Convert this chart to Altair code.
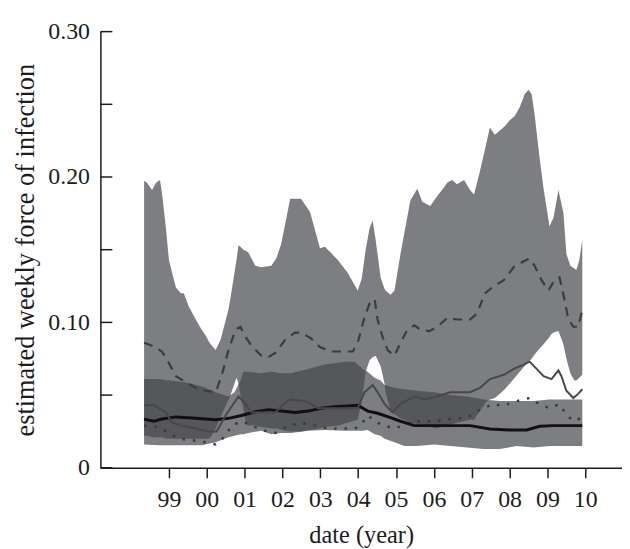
import altair as alt
import pandas as pd

# ---- data ----
band1_year = [1998.344, 1998.422, 1998.554, 1998.659, 1998.764, 1998.816, 1998.921, 1999.000,
              1999.184, 1999.315, 1999.394, 1999.525, 1999.709, 1999.866, 1999.971, 2000.050,
              2000.103, 2000.234, 2000.365, 2000.575, 2000.628, 2000.785, 2000.838, 2000.890,
              2000.969, 2001.048, 2001.100, 2001.284, 2001.442, 2001.704, 2001.835, 2001.967,
              2002.203, 2002.492, 2002.728, 2002.991, 2003.122, 2003.463, 2003.726, 2003.988,
              2004.093, 2004.198, 2004.303, 2004.382, 2004.461, 2004.592, 2004.697, 2004.723,
              2004.855, 2004.960, 2005.117, 2005.380, 2005.563, 2005.695, 2005.905, 2006.089,
              2006.272, 2006.351, 2006.482, 2006.613, 2006.797, 2006.955, 2007.060, 2007.217,
              2007.401, 2007.480, 2007.611, 2007.742, 2007.874, 2008.005, 2008.136, 2008.268,
              2008.399, 2008.504, 2008.583, 2008.661, 2008.793, 2008.898, 2009.055, 2009.108,
              2009.160, 2009.291, 2009.423, 2009.501, 2009.606, 2009.711, 2009.764, 2009.843,
              2009.921]
band1_lo = [0.022, 0.022, 0.021, 0.021, 0.021, 0.021, 0.020, 0.020,
            0.020, 0.020, 0.020, 0.020, 0.020, 0.020, 0.020, 0.020,
            0.021, 0.027, 0.035, 0.047, 0.050, 0.062, 0.058, 0.050,
            0.040, 0.030, 0.029, 0.029, 0.028, 0.027, 0.027, 0.026,
            0.025, 0.025, 0.026, 0.027, 0.028, 0.029, 0.031, 0.033,
            0.045, 0.066, 0.074, 0.076, 0.077, 0.070, 0.058, 0.052,
            0.039, 0.037, 0.034, 0.031, 0.030, 0.029, 0.028, 0.027,
            0.029, 0.029, 0.030, 0.031, 0.032, 0.033, 0.033, 0.039,
            0.046, 0.047, 0.048, 0.051, 0.054, 0.058, 0.062, 0.066,
            0.070, 0.073, 0.075, 0.078, 0.082, 0.085, 0.090, 0.092,
            0.093, 0.094, 0.085, 0.075, 0.065, 0.060, 0.060, 0.062,
            0.064]
band1_hi = [0.1975, 0.196, 0.191, 0.196, 0.198, 0.189, 0.165, 0.143,
            0.124, 0.120, 0.120, 0.111, 0.102, 0.095, 0.091, 0.087,
            0.085, 0.081, 0.088, 0.109, 0.117, 0.143, 0.153, 0.152,
            0.150, 0.149, 0.148, 0.139, 0.138, 0.139, 0.144, 0.154,
            0.185, 0.185, 0.176, 0.151, 0.152, 0.143, 0.134, 0.122,
            0.130, 0.150, 0.165, 0.170, 0.157, 0.131, 0.123, 0.122,
            0.119, 0.122, 0.147, 0.184, 0.192, 0.183, 0.180, 0.187,
            0.193, 0.196, 0.198, 0.195, 0.198, 0.191, 0.188, 0.204,
            0.225, 0.234, 0.229, 0.232, 0.235, 0.239, 0.242, 0.248,
            0.257, 0.260, 0.257, 0.243, 0.213, 0.192, 0.166, 0.169,
            0.172, 0.191, 0.175, 0.147, 0.139, 0.137, 0.136, 0.143,
            0.157]

band2_year = [1998.344, 1998.737, 1999.000, 1999.394, 1999.866, 2000.234, 2000.575, 2000.733,
              2000.890, 2000.969, 2001.100, 2001.442, 2001.704, 2001.967, 2002.229, 2002.676,
              2003.122, 2003.647, 2003.909, 2004.119, 2004.251, 2004.434, 2004.592, 2004.697,
              2004.960, 2005.222, 2005.563, 2006.010, 2006.430, 2006.876, 2007.322, 2007.742,
              2008.189, 2008.635, 2009.055, 2009.501, 2009.921]
band2_lo = [0.016, 0.0155, 0.0155, 0.0155, 0.0155, 0.0175, 0.021, 0.022,
            0.023, 0.023, 0.024, 0.0255, 0.023, 0.024, 0.024, 0.0255,
            0.026, 0.0255, 0.0255, 0.0255, 0.026, 0.023, 0.022, 0.020,
            0.0175, 0.015, 0.015, 0.016, 0.015, 0.014, 0.013, 0.013,
            0.015, 0.014, 0.015, 0.015, 0.015]
band2_hi = [0.061, 0.061, 0.060, 0.059, 0.056, 0.052, 0.049, 0.052,
            0.060, 0.066, 0.066, 0.065, 0.066, 0.065, 0.065, 0.068,
            0.071, 0.073, 0.073, 0.068, 0.066, 0.062, 0.060, 0.057,
            0.055, 0.054, 0.053, 0.052, 0.050, 0.049, 0.047, 0.046,
            0.046, 0.046, 0.047, 0.047, 0.047]

dashed_year = [1998.344, 1998.554, 1998.816, 1999.000, 1999.184, 1999.446, 1999.709, 1999.971,
               2000.234, 2000.391, 2000.575, 2000.759, 2000.890, 2001.022, 2001.179, 2001.442,
               2001.625, 2001.809, 2002.072, 2002.334, 2002.492, 2002.754, 2002.991, 2003.279,
               2003.647, 2003.857, 2003.988, 2004.172, 2004.303, 2004.434, 2004.513, 2004.645,
               2004.776, 2004.960, 2005.117, 2005.301, 2005.485, 2005.642, 2005.879, 2006.089,
               2006.351, 2006.613, 2006.955, 2007.139, 2007.349, 2007.585, 2007.848, 2008.110,
               2008.373, 2008.530, 2008.661, 2008.845, 2009.029, 2009.186, 2009.318, 2009.449,
               2009.554, 2009.685, 2009.816, 2009.921]
dashed_val = [0.086, 0.084, 0.080, 0.072, 0.063, 0.059, 0.055, 0.053,
              0.052, 0.063, 0.081, 0.095, 0.097, 0.090, 0.084, 0.077,
              0.076, 0.079, 0.088, 0.093, 0.093, 0.089, 0.083, 0.080,
              0.080, 0.080, 0.086, 0.104, 0.113, 0.116, 0.102, 0.090,
              0.081, 0.077, 0.086, 0.095, 0.098, 0.095, 0.094, 0.097,
              0.103, 0.102, 0.102, 0.106, 0.120, 0.125, 0.129, 0.138,
              0.142, 0.144, 0.139, 0.129, 0.122, 0.129, 0.131, 0.116,
              0.102, 0.097, 0.097, 0.109]

thin_year = [1998.344, 1998.606, 1998.921, 1999.079, 1999.341, 1999.709, 2000.050, 2000.260,
             2000.496, 2000.838, 2001.022, 2001.179, 2001.442, 2001.809, 2002.072, 2002.229,
             2002.597, 2002.754, 2002.938, 2003.201, 2003.542, 2003.988, 2004.172, 2004.382,
             2004.513, 2004.697, 2004.907, 2005.117, 2005.485, 2005.773, 2006.089, 2006.430,
             2006.955, 2007.217, 2007.480, 2007.848, 2008.110, 2008.373, 2008.530, 2008.714,
             2008.898, 2009.108, 2009.291, 2009.370, 2009.501, 2009.685, 2009.816, 2009.921]
thin_val = [0.043, 0.043, 0.038, 0.031, 0.029, 0.027, 0.025, 0.025,
            0.036, 0.049, 0.044, 0.038, 0.038, 0.038, 0.045, 0.047,
            0.046, 0.044, 0.041, 0.041, 0.041, 0.041, 0.052, 0.057,
            0.052, 0.044, 0.038, 0.044, 0.049, 0.047, 0.049, 0.052,
            0.052, 0.055, 0.061, 0.064, 0.068, 0.071, 0.073, 0.068,
            0.063, 0.061, 0.067, 0.063, 0.053, 0.048, 0.051, 0.054]

black_year = [1998.344, 1998.606, 1998.816, 1999.184, 1999.709, 2000.234, 2000.575, 2000.917,
              2001.284, 2001.625, 2001.967, 2002.334, 2002.676, 2003.017, 2003.384, 2003.726,
              2003.988, 2004.251, 2004.513, 2004.855, 2005.117, 2005.485, 2006.010, 2006.430,
              2006.955, 2007.480, 2008.005, 2008.451, 2008.793, 2009.160, 2009.501, 2009.921]
black_val = [0.0335, 0.032, 0.0335, 0.035, 0.034, 0.033, 0.034, 0.036,
             0.0385, 0.040, 0.039, 0.038, 0.039, 0.041, 0.042, 0.0425,
             0.043, 0.039, 0.0375, 0.0345, 0.032, 0.029, 0.029, 0.029,
             0.029, 0.0267, 0.026, 0.026, 0.0285, 0.029, 0.029, 0.029]

dotted_year = [1998.344, 1998.737, 1999.000, 1999.263, 1999.604, 1999.971, 2000.234, 2000.496,
               2000.654, 2000.917, 2001.179, 2001.547, 2001.809, 2002.150, 2002.492, 2002.859,
               2003.201, 2003.542, 2003.909, 2004.067, 2004.251, 2004.330, 2004.513, 2004.697,
               2004.960, 2005.485, 2006.010, 2006.430, 2006.876, 2007.217, 2007.585, 2007.795,
               2007.979, 2008.136, 2008.373, 2008.530, 2008.714, 2008.898, 2009.055, 2009.239,
               2009.370, 2009.449, 2009.580, 2009.764, 2009.921]
dotted_val = [0.029, 0.028, 0.024, 0.020, 0.019, 0.0175, 0.016, 0.022,
              0.029, 0.032, 0.029, 0.0255, 0.024, 0.029, 0.031, 0.029,
              0.027, 0.027, 0.027, 0.029, 0.036, 0.0345, 0.031, 0.029,
              0.027, 0.032, 0.032, 0.0335, 0.0345, 0.040, 0.044, 0.0425,
              0.044, 0.0455, 0.047, 0.048, 0.045, 0.0425, 0.041, 0.043,
              0.043, 0.038, 0.0345, 0.032, 0.036]

x_ticks = [1999, 2000, 2001, 2002, 2003, 2004, 2005, 2006, 2007, 2008, 2009, 2010]
y_ticks = [0, 0.05, 0.10, 0.15, 0.20, 0.25, 0.30]

# ---- tables ----
b1 = pd.DataFrame({"year": band1_year, "lo": band1_lo, "hi": band1_hi})
b2 = pd.DataFrame({"year": band2_year, "lo": band2_lo, "hi": band2_hi})
dashed = pd.DataFrame({"year": dashed_year, "value": dashed_val})
thin = pd.DataFrame({"year": thin_year, "value": thin_val})
black = pd.DataFrame({"year": black_year, "value": black_val})
dotted = pd.DataFrame({"year": dotted_year, "value": dotted_val})
yt = pd.DataFrame({"value": y_ticks})

FONT = "Liberation Serif"
INK = "#1c1c1c"

xscale = alt.Scale(domain=[1997.19, 2010.97], nice=False, zero=False)
yscale = alt.Scale(domain=[0, 0.30], nice=False, zero=True)

xaxis = alt.Axis(
    title="date (year)", values=x_ticks,
    labelExpr="substring(toString(datum.value), 2, 4)",
    grid=False, domain=True, domainColor=INK, domainWidth=1.5,
    ticks=True, tickSize=10, tickWidth=1.5, tickColor=INK,
    labelFont=FONT, labelFontSize=24, labelColor=INK, labelPadding=10,
    labelFlush=False, labelOverlap=False,
    titleFont=FONT, titleFontSize=24.5, titleFontWeight="normal", titleColor=INK,
    titlePadding=12,
)
yaxis = alt.Axis(
    title="estimated weekly force of infection", values=y_ticks,
    labelExpr="datum.value == 0 ? '0' : (round(datum.value * 100) % 10 == 0 ? format(datum.value, '.2f') : '')",
    grid=False, domain=True, domainColor=INK, domainWidth=1.5,
    ticks=False, labelPadding=11,
    labelFont=FONT, labelFontSize=24, labelColor=INK, labelOverlap=False, labelFlush=False,
    titleFont=FONT, titleFontSize=26.5, titleFontWeight="normal", titleColor=INK,
    titlePadding=8,
)

BAND = "#45474c"
OP = 0.7

band1 = alt.Chart(b1).mark_area(color=BAND, opacity=OP, interpolate="linear").encode(
    x=alt.X("year:Q", scale=xscale, axis=xaxis),
    y=alt.Y("hi:Q", scale=yscale, axis=yaxis),
    y2="lo:Q",
)
band2 = alt.Chart(b2).mark_area(color=BAND, opacity=OP).encode(
    x=alt.X("year:Q", scale=xscale, axis=xaxis),
    y=alt.Y("hi:Q", scale=yscale, axis=yaxis),
    y2="lo:Q",
)

def line(df, **kw):
    return alt.Chart(df).mark_line(**kw).encode(
        x=alt.X("year:Q", scale=xscale, axis=xaxis),
        y=alt.Y("value:Q", scale=yscale, axis=yaxis),
    )

l_dotted = line(dotted, color="#3a3a3a", strokeWidth=2.5, strokeDash=[2.5, 8])
l_black = line(black, color="#111111", strokeWidth=3)
l_thin = line(thin, color="#484848", strokeWidth=2)
l_dashed = line(dashed, color="#3c3c3c", strokeWidth=2.2, strokeDash=[9, 7])

yticks = alt.Chart(yt).mark_rule(color=INK, strokeWidth=1.5).encode(
    y=alt.Y("value:Q", scale=yscale, axis=yaxis),
    x=alt.value(0),
    x2=alt.value(12),
)

chart = alt.layer(band1, band2, l_dotted, l_black, l_thin, l_dashed, yticks).properties(
    width=525, height=439,
    autosize=alt.AutoSizeParams(type="none"),
    padding={"left": 93, "top": 22, "right": 0, "bottom": 86},
).configure_view(stroke=None)

chart.save("out.html", embed_options={"renderer": "svg", "actions": False})
